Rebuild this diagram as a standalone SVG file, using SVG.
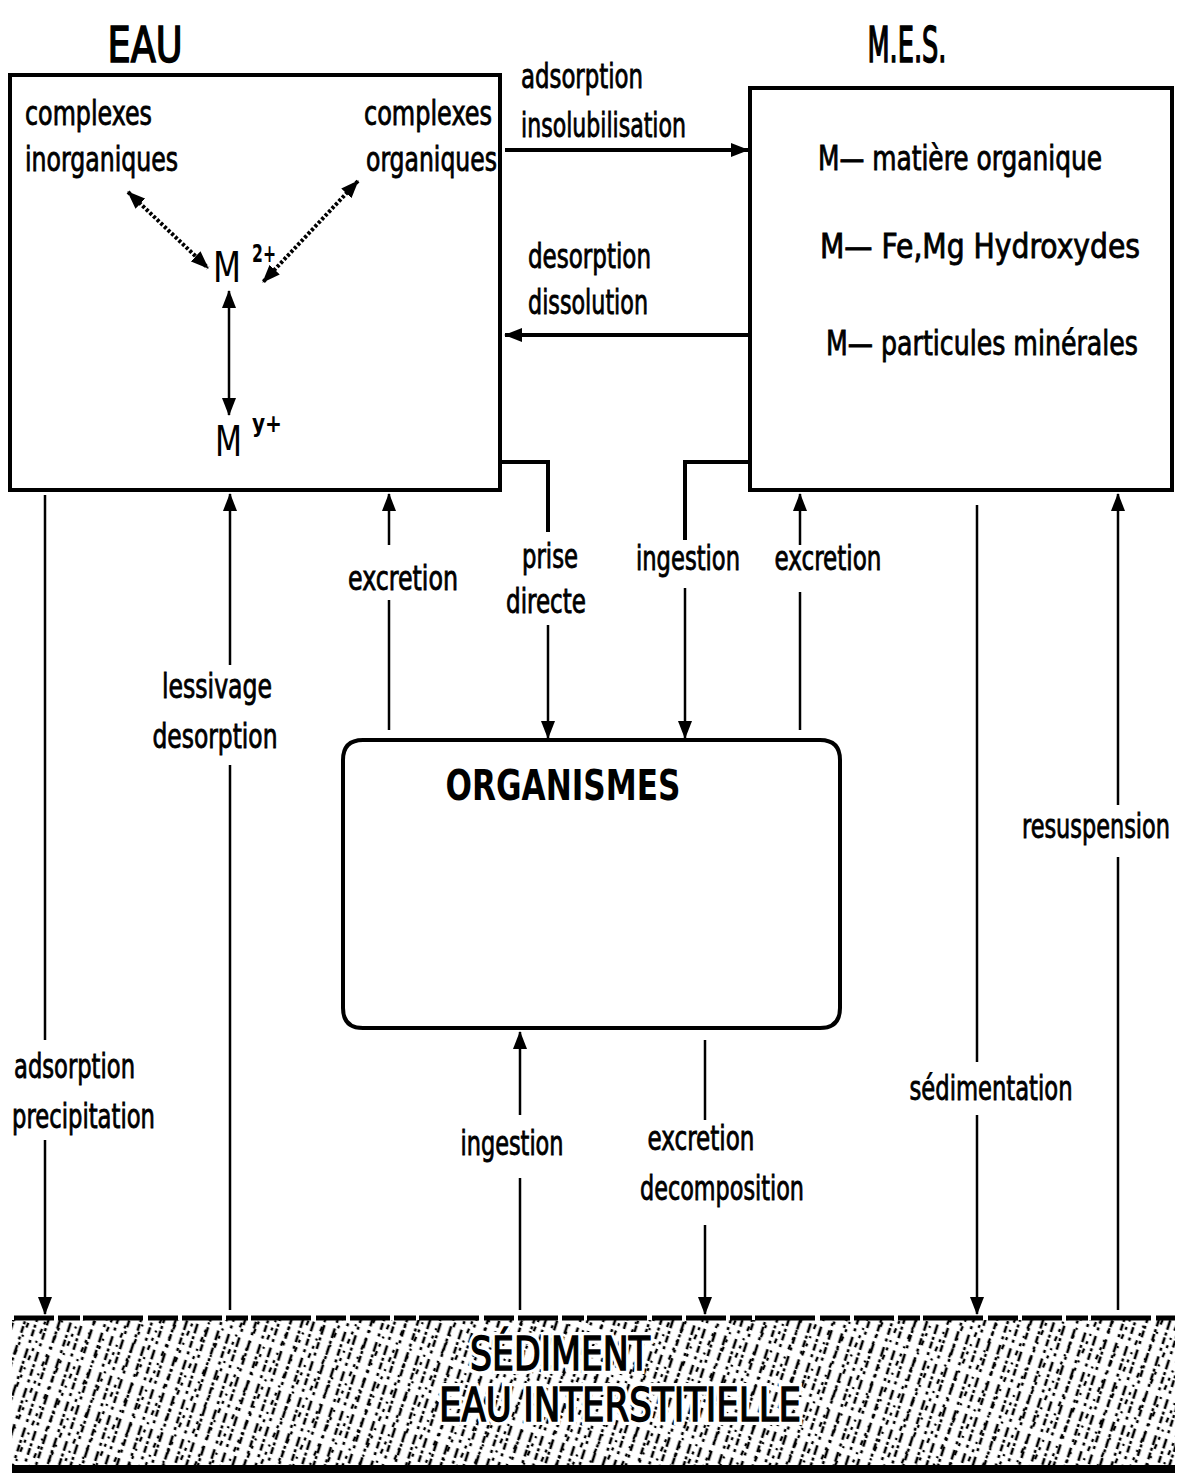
<svg xmlns="http://www.w3.org/2000/svg" width="1191" height="1480" viewBox="0 0 1191 1480">
<style>
text{font-family:"Liberation Sans Narrow","DejaVu Sans Condensed","Liberation Sans",sans-serif;fill:#000}
.lbl{font-size:33px;stroke:#000;stroke-width:0.8}
.ttl{font-size:50px;stroke:#000;stroke-width:1.6}
.m{font-size:42px;font-weight:normal}
.sup{font-size:24px;font-weight:bold}
.box{fill:#fff;stroke:#000;stroke-width:4}
.ln{fill:none;stroke:#000;stroke-width:2.5}
.thick{fill:none;stroke:#000;stroke-width:4}
.dot{fill:none;stroke:#000;stroke-width:4;stroke-dasharray:3 2}
.halo{font-size:46px;fill:#fff;stroke:#fff;stroke-width:8}
.big{font-size:46px;fill:#000;stroke:#000;stroke-width:1.4}
</style>
<defs>
<marker id="ah" markerUnits="userSpaceOnUse" markerWidth="18" markerHeight="14" refX="17" refY="7" orient="auto-start-reverse">
<path d="M0,0 L18,7 L0,14 z" fill="#000"/>
</marker>
<pattern id="hatchA" patternUnits="userSpaceOnUse" width="11" height="38" patternTransform="rotate(18)">
<line x1="3" y1="0" x2="3" y2="38" stroke="#000" stroke-width="2.6" stroke-dasharray="7 4 3 6 10 3 3 2"/>
</pattern>
<pattern id="hatchB" patternUnits="userSpaceOnUse" width="15" height="29" patternTransform="rotate(24)">
<line x1="9" y1="0" x2="9" y2="29" stroke="#000" stroke-width="2.4" stroke-dasharray="3 5 5 8 2 6"/>
</pattern>
</defs>
<rect width="1191" height="1480" fill="#fff"/>

<g id="titles">
<text class="ttl" x="145" y="62" text-anchor="middle" textLength="75" lengthAdjust="spacingAndGlyphs">EAU</text>
<text class="ttl" x="907" y="62" text-anchor="middle" textLength="79" lengthAdjust="spacingAndGlyphs">M.E.S.</text>
</g>

<g id="eau">
<rect class="box" x="10" y="75" width="490" height="415"/>
<text class="lbl" x="25" y="125" textLength="127" lengthAdjust="spacingAndGlyphs">complexes</text>
<text class="lbl" x="25" y="171" textLength="153" lengthAdjust="spacingAndGlyphs">inorganiques</text>
<text class="lbl" x="364" y="125" textLength="128" lengthAdjust="spacingAndGlyphs">complexes</text>
<text class="lbl" x="366" y="171" textLength="131" lengthAdjust="spacingAndGlyphs">organiques</text>
<text class="m" x="213" y="282" textLength="28" lengthAdjust="spacingAndGlyphs">M</text>
<text class="sup" x="252" y="262" textLength="24" lengthAdjust="spacingAndGlyphs">2+</text>
<text class="m" x="215" y="456" textLength="27" lengthAdjust="spacingAndGlyphs">M</text>
<text class="sup" x="252" y="432" textLength="30" lengthAdjust="spacingAndGlyphs">y+</text>
<line class="dot" x1="128" y1="192" x2="208" y2="268" marker-start="url(#ah)" marker-end="url(#ah)"/>
<line class="dot" x1="358" y1="181" x2="263" y2="282" marker-start="url(#ah)" marker-end="url(#ah)"/>
<line class="ln" x1="229" y1="291" x2="229" y2="415" marker-start="url(#ah)" marker-end="url(#ah)"/>
</g>

<g id="mes">
<rect class="box" x="750" y="88" width="422" height="402"/>
<text class="lbl" x="818" y="170" textLength="284" lengthAdjust="spacingAndGlyphs">M— matière organique</text>
<text class="lbl" x="820" y="258" textLength="320" lengthAdjust="spacingAndGlyphs">M— Fe,Mg  Hydroxydes</text>
<text class="lbl" x="826" y="355" textLength="312" lengthAdjust="spacingAndGlyphs">M— particules minérales</text>
</g>

<g id="organismes">
<path class="box" d="M363,740 H820 Q840,740 840,760 V1008 Q840,1028 820,1028 H363 Q343,1028 343,1008 V760 Q343,740 363,740 Z"/>
<text x="563" y="800" text-anchor="middle" font-size="42" font-weight="bold" textLength="235" lengthAdjust="spacingAndGlyphs">ORGANISMES</text>
</g>

<g id="sediment">
<rect x="12" y="1320" width="1163" height="146" fill="url(#hatchA)"/>
<rect x="12" y="1320" width="1163" height="146" fill="url(#hatchB)"/>
<line x1="14" y1="1318" x2="1175" y2="1318" stroke="#000" stroke-width="5" stroke-dasharray="40 4 22 3 60 5 30 4"/>
<line x1="12" y1="1469" x2="1175" y2="1469" stroke="#000" stroke-width="8"/>
<text class="halo" x="560" y="1370" text-anchor="middle" textLength="180" lengthAdjust="spacingAndGlyphs">SÉDIMENT</text>
<text class="halo" x="620" y="1421" text-anchor="middle" textLength="362" lengthAdjust="spacingAndGlyphs">EAU INTERSTITIELLE</text>
<text class="big" x="560" y="1370" text-anchor="middle" textLength="180" lengthAdjust="spacingAndGlyphs">SÉDIMENT</text>
<text class="big" x="620" y="1421" text-anchor="middle" textLength="362" lengthAdjust="spacingAndGlyphs">EAU INTERSTITIELLE</text>
</g>

<g id="connectors">
<line class="thick" x1="505" y1="150" x2="748" y2="150" marker-end="url(#ah)"/>
<line class="thick" x1="748" y1="335" x2="505" y2="335" marker-end="url(#ah)"/>
<path class="ln" d="M389,730 V600"/>
<path class="ln" d="M389,545 V494" marker-end="url(#ah)"/>
<path class="thick" d="M500,462 H548 V532"/>
<path class="ln" d="M548,625 V738" marker-end="url(#ah)"/>
<path class="thick" d="M750,462 H685 V540"/>
<path class="ln" d="M685,588 V738" marker-end="url(#ah)"/>
<path class="ln" d="M800,730 V592"/>
<path class="ln" d="M800,545 V494" marker-end="url(#ah)"/>
<path class="ln" d="M520,1310 V1178"/>
<path class="ln" d="M520,1115 V1032" marker-end="url(#ah)"/>
<path class="ln" d="M705,1040 V1120"/>
<path class="ln" d="M705,1225 V1314" marker-end="url(#ah)"/>
<path class="ln" d="M45,495 V1040"/>
<path class="ln" d="M45,1140 V1314" marker-end="url(#ah)"/>
<path class="ln" d="M230,1310 V765"/>
<path class="ln" d="M230,665 V494" marker-end="url(#ah)"/>
<path class="ln" d="M977,505 V1062"/>
<path class="ln" d="M977,1115 V1314" marker-end="url(#ah)"/>
<path class="ln" d="M1118,1310 V857"/>
<path class="ln" d="M1118,805 V494" marker-end="url(#ah)"/>
</g>

<g id="labels">
<text class="lbl" x="521" y="88" textLength="122" lengthAdjust="spacingAndGlyphs">adsorption</text>
<text class="lbl" x="521" y="137" textLength="165" lengthAdjust="spacingAndGlyphs">insolubilisation</text>
<text class="lbl" x="528" y="268" textLength="123" lengthAdjust="spacingAndGlyphs">desorption</text>
<text class="lbl" x="528" y="314" textLength="120" lengthAdjust="spacingAndGlyphs">dissolution</text>
<text class="lbl" x="403" y="590" text-anchor="middle" textLength="110" lengthAdjust="spacingAndGlyphs">excretion</text>
<text class="lbl" x="550" y="568" text-anchor="middle" textLength="56" lengthAdjust="spacingAndGlyphs">prise</text>
<text class="lbl" x="546" y="613" text-anchor="middle" textLength="80" lengthAdjust="spacingAndGlyphs">directe</text>
<text class="lbl" x="688" y="570" text-anchor="middle" textLength="104" lengthAdjust="spacingAndGlyphs">ingestion</text>
<text class="lbl" x="828" y="570" text-anchor="middle" textLength="107" lengthAdjust="spacingAndGlyphs">excretion</text>
<text class="lbl" x="217" y="698" text-anchor="middle" textLength="110" lengthAdjust="spacingAndGlyphs">lessivage</text>
<text class="lbl" x="215" y="748" text-anchor="middle" textLength="125" lengthAdjust="spacingAndGlyphs">desorption</text>
<text class="lbl" x="1170" y="838" text-anchor="end" font-size="30" textLength="148" lengthAdjust="spacingAndGlyphs">resuspension</text>
<text class="lbl" x="14" y="1078" textLength="121" lengthAdjust="spacingAndGlyphs">adsorption</text>
<text class="lbl" x="12" y="1128" textLength="143" lengthAdjust="spacingAndGlyphs">precipitation</text>
<text class="lbl" x="991" y="1100" text-anchor="middle" textLength="163" lengthAdjust="spacingAndGlyphs">sédimentation</text>
<text class="lbl" x="512" y="1155" text-anchor="middle" textLength="103" lengthAdjust="spacingAndGlyphs">ingestion</text>
<text class="lbl" x="701" y="1150" text-anchor="middle" textLength="107" lengthAdjust="spacingAndGlyphs">excretion</text>
<text class="lbl" x="722" y="1200" text-anchor="middle" textLength="164" lengthAdjust="spacingAndGlyphs">decomposition</text>
</g>
</svg>
